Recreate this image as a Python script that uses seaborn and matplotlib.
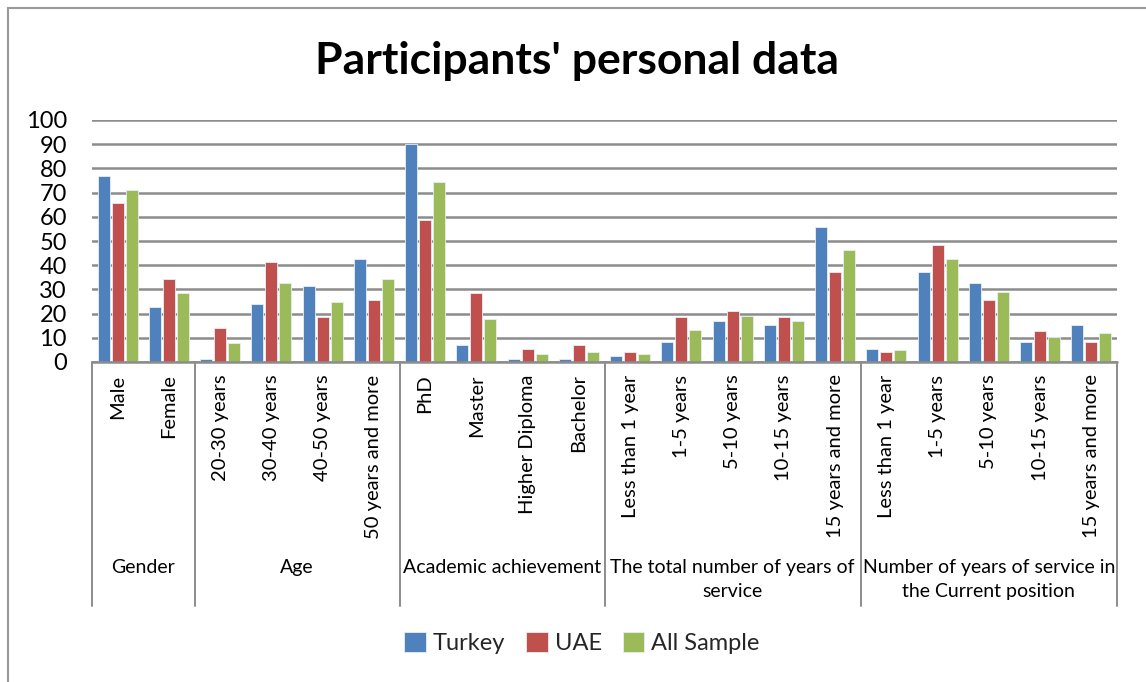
import matplotlib
matplotlib.use("Agg")
import matplotlib.pyplot as plt
import matplotlib.transforms as mtransforms
import pandas as pd
import seaborn as sns

categories = ["Male", "Female",
              "20-30 years", "30-40 years", "40-50 years", "50 years and more",
              "PhD", "Master", "Higher Diploma", "Bachelor",
              "Less than 1 year", "1-5 years", "5-10 years", "10-15 years", "15 years and more",
              "Less than 1 year", "1-5 years", "5-10 years", "10-15 years", "15 years and more"]
groups = ["Gender", "Age", "Academic achievement",
          "The total number of years of\nservice",
          "Number of years of service in\nthe Current position"]
group_sizes = [2, 4, 4, 5, 5]

turkey = [77, 22.6, 1.1, 24.1, 31.2, 42.6, 90.1, 6.9, 1.1, 1.1,
          2.6, 8.4, 16.8, 15.4, 55.6, 5.5, 37.0, 32.7, 8.4, 15.4]
uae = [65.5, 34.1, 14.1, 41.2, 18.5, 25.5, 58.5, 28.4, 5.5, 6.9,
       4.0, 18.5, 21.2, 18.5, 37.0, 4.0, 48.4, 25.5, 12.7, 8.4]
all_sample = [71.2, 28.4, 7.7, 32.7, 24.7, 34.1, 74.3, 17.7, 3.3, 4.0,
              3.3, 13.4, 19.0, 16.8, 46.2, 4.8, 42.6, 29.1, 10.5, 11.9]

series = ["Turkey", "UAE", "All Sample"]
colors = ["#4F81BD", "#C0504D", "#9BBB59"]

rows = []
for name, vals in zip(series, [turkey, uae, all_sample]):
    for i, v in enumerate(vals):
        rows.append({"pos": i, "value": v, "series": name})
df = pd.DataFrame(rows)

sns.set_style("white")
plt.rcParams['font.family'] = ['Lato', 'DejaVu Sans']

fig = plt.figure(figsize=(11.46, 6.82), dpi=100)
ax = fig.add_axes([92 / 1146, 1 - 362 / 682, (1117 - 92) / 1146, (362 - 120) / 682])

sns.barplot(data=df, x="pos", y="value", hue="series", palette=colors, saturation=1,
            width=0.82, gap=0.15, edgecolor="#e8eef5", linewidth=0.6, ax=ax, zorder=3)

ax.set_ylim(0, 100)
ax.set_xlim(-0.5, len(categories) - 0.5)
ax.set_yticks(range(0, 101, 10))
ax.tick_params(axis="y", labelsize=17, length=0, pad=18, labelcolor="black")
ax.yaxis.grid(True, color="#8c8c8c", linewidth=1.8, zorder=0)
ax.set_axisbelow(True)
ax.axhline(0, color="#8c8c8c", linewidth=1.8, clip_on=False, zorder=4)
for s in ax.spines.values():
    s.set_visible(False)
ax.set_xlabel("")
ax.set_ylabel("")

ax.set_xticks(range(len(categories)))
ax.set_xticklabels(categories, rotation=90, fontsize=14.5, va="top", ha="center",
                   color="black")
ax.tick_params(axis="x", length=0, pad=9)

trans = mtransforms.blended_transform_factory(ax.transData, ax.transAxes)
start = -0.5
for g, n in zip(groups, group_sizes):
    ax.plot([start, start], [0, -1.01], transform=trans, color="#8c8c8c",
            linewidth=1.4, clip_on=False)
    ax.text(start + n / 2, -0.812, g, transform=trans, ha="center", va="top",
            fontsize=14, linespacing=1.55, color="black")
    start += n
ax.plot([start, start], [0, -1.01], transform=trans, color="#8c8c8c",
        linewidth=1.4, clip_on=False)

sns.move_legend(ax, "center", bbox_to_anchor=(582 / 1146, 1 - 643 / 682),
                bbox_transform=fig.transFigure, ncol=3, frameon=False, title=None,
                fontsize=17, handlelength=0.9, handleheight=0.9,
                handletextpad=0.3, columnspacing=0.9)

fig.text(577 / 1146, 1 - 61 / 682, "Participants' personal data", ha="center",
         va="center", fontsize=32, fontweight="bold", color="black")

fig.patches.append(plt.Rectangle((8 / 1146, -0.1), 1.2, 1 - 8 / 682 + 0.1,
                                 transform=fig.transFigure, fill=False,
                                 edgecolor="#9a9a9a", linewidth=1.5))

fig.savefig("out.png", dpi=100)
